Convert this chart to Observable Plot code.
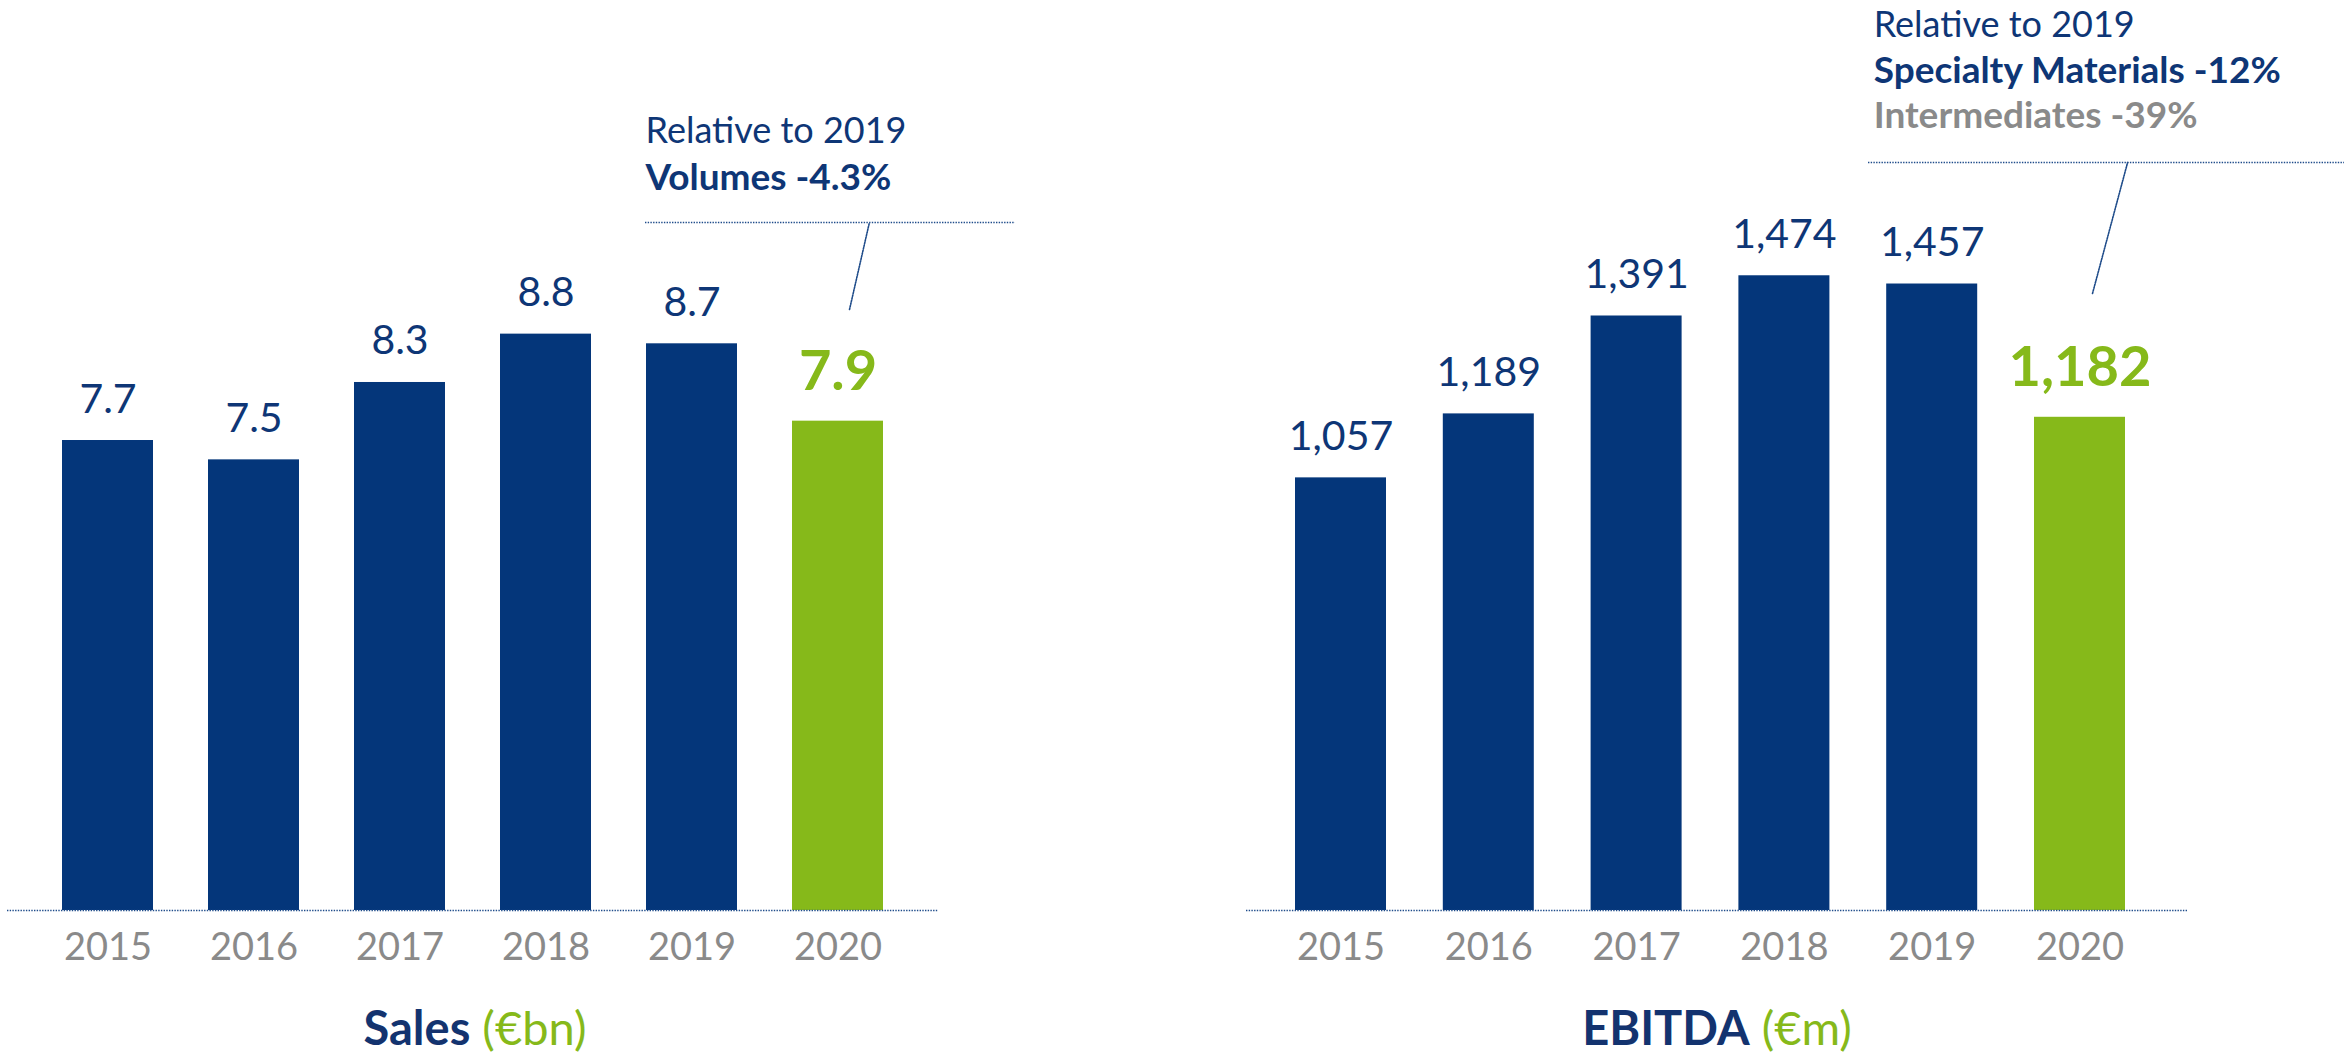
<!DOCTYPE html>
<html>
<head>
<meta charset="utf-8">
<script src="https://cdn.jsdelivr.net/npm/d3@7"></script>
<script src="https://cdn.jsdelivr.net/npm/@observablehq/plot@0.6"></script>
<style>
  html, body { margin: 0; padding: 0; background: #ffffff; }
  #wrap { position: relative; width: 2344px; height: 1056px; overflow: hidden; font-family: Lato, "Open Sans", sans-serif; }
  .panel { position: absolute; top: 0; width: 1172px; height: 990px; }
  .title { position: absolute; top: 1004px; font-size: 47px; line-height: 47px; white-space: nowrap; text-align: center; }
  .title b { color: #13336F; font-weight: 700; }
  .title span { color: #86B91A; font-weight: 400; }
</style>
</head>
<body>
<div id="wrap">
  <div class="panel" id="sales" style="left:0px"></div>
  <div class="panel" id="ebitda" style="left:1172px"></div>
  <div class="title" style="left:0px;width:950px"><b>Sales</b> <span>(€bn)</span></div>
  <div class="title" style="left:1217px;width:1000px"><b>EBITDA</b> <span>(€m)</span></div>
</div>
<script>
// ---- data ----
const years = ["2015", "2016", "2017", "2018", "2019", "2020"];
const salesValues = [7.7, 7.5, 8.3, 8.8, 8.7, 7.9];           // €bn
const ebitdaValues = [1057, 1189, 1391, 1474, 1457, 1182];     // €m
const highlightYear = "2020";
const salesNote = ["Relative to 2019", "Volumes -4.3%"];
const ebitdaNote = ["Relative to 2019", "Specialty Materials -12%", "Intermediates -39%"];

// ---- styles ----
const NAVY = "#04367A";
const TEXT_NAVY = "#0E3676";
const GREEN = "#86B91A";
const GRAY = "#8A8A8A";
const FONT = "Lato, 'Open Sans', sans-serif";

const lineShape = { draw(context, l) { context.moveTo(0, 0); context.lineTo(0, -l); } };

function rowsOf(values) { return years.map((year, i) => ({ year, value: values[i] })); }

function barChart({ values, fmt, yDomain, xRange, padding, marginLeft, marginRight, note }) {
  const rows = rowsOf(values);
  const base = yDomain[0];
  const normal = rows.filter(d => d.year !== highlightYear);
  const hi = rows.filter(d => d.year === highlightYear);
  return Plot.plot({
    width: 1172,
    height: 990,
    marginTop: 0,
    marginBottom: 80,
    marginLeft,
    marginRight,
    style: { fontFamily: FONT, color: GRAY, background: "transparent", overflow: "visible" },
    x: { type: "band", domain: years, range: xRange, paddingInner: padding, paddingOuter: padding / 2, round: false, axis: null },
    y: { domain: yDomain, axis: null },
    marks: [
      Plot.barY(normal, { x: "year", y1: () => base, y2: "value", fill: NAVY }),
      Plot.barY(hi, { x: "year", y1: () => base, y2: "value", fill: GREEN }),
      Plot.ruleY([base], { stroke: "#1F4C8A", strokeWidth: 1.6, strokeDasharray: "1.4,1.3" }),
      Plot.axisX({ tickSize: 0, tickPadding: 23, fontSize: 38, fill: GRAY, label: null, fontFamily: FONT }),
      Plot.text(normal, { x: "year", y: "value", text: d => fmt(d.value), lineAnchor: "bottom", dy: -28, fontSize: 41, fill: TEXT_NAVY, fontFamily: FONT }),
      Plot.text(hi, { x: "year", y: "value", text: d => fmt(d.value), lineAnchor: "bottom", dy: -31, fontSize: 56, fontWeight: "bold", fill: GREEN, fontFamily: FONT }),
      ...note(base)
    ]
  });
}

// Sales annotation
const salesChart = barChart({
  values: salesValues,
  fmt: d3.format(".1f"),
  yDomain: [2.84, 12.25],
  xRange: [34.5, 910.5],
  padding: 0.3767,
  marginLeft: 7,
  marginRight: 234,
  note: () => [
    Plot.text(["2019"], { x: d => d, y: () => 10.772, text: () => salesNote[0], textAnchor: "start", lineAnchor: "bottom", dx: -46.5, fontSize: 36, fill: TEXT_NAVY, fontFamily: FONT }),
    Plot.text(["2019"], { x: d => d, y: () => 10.286, text: () => salesNote[1], textAnchor: "start", lineAnchor: "bottom", dx: -46.5, fontSize: 37, fontWeight: "bold", fill: TEXT_NAVY, fontFamily: FONT }),
    Plot.ruleY([9.955], { insetLeft: 638, insetRight: -77, stroke: "#1F4C8A", strokeWidth: 1.6, strokeDasharray: "1.4,1.3" }),
    Plot.vector([highlightYear], { x: d => d, y: () => 9.055, dx: 11.5, length: 89, rotate: 12.9, anchor: "start", shape: lineShape, stroke: "#1F4C8A", strokeWidth: 1.6, strokeDasharray: "1.4,1.3" })
  ]
});

const ebitdaChart = barChart({
  values: ebitdaValues,
  fmt: d3.format(","),
  yDomain: [164.3, 2042],
  xRange: [94.6, 981.4],
  padding: 0.3843,
  marginLeft: 74,
  marginRight: 157,
  note: () => [
    Plot.text(["2019"], { x: d => d, y: () => 1965.8, text: () => ebitdaNote[0], textAnchor: "start", lineAnchor: "bottom", dx: -58.5, fontSize: 36, fill: TEXT_NAVY, fontFamily: FONT }),
    Plot.text(["2019"], { x: d => d, y: () => 1870.9, text: () => ebitdaNote[1], textAnchor: "start", lineAnchor: "bottom", dx: -58.5, fontSize: 37, fontWeight: "bold", fill: TEXT_NAVY, fontFamily: FONT }),
    Plot.text(["2019"], { x: d => d, y: () => 1778.0, text: () => ebitdaNote[2], textAnchor: "start", lineAnchor: "bottom", dx: -58.5, fontSize: 37, fontWeight: "bold", fill: GRAY, fontFamily: FONT }),
    Plot.ruleY([1707.8], { insetLeft: 622, insetRight: -157, stroke: "#1F4C8A", strokeWidth: 1.6, strokeDasharray: "1.4,1.3" }),
    Plot.vector([highlightYear], { x: d => d, y: () => 1437.5, dx: 12.5, length: 135.6, rotate: 15, anchor: "start", shape: lineShape, stroke: "#1F4C8A", strokeWidth: 1.6, strokeDasharray: "1.4,1.3" })
  ]
});

document.getElementById("sales").appendChild(salesChart);
document.getElementById("ebitda").appendChild(ebitdaChart);
</script>
</body>
</html>
